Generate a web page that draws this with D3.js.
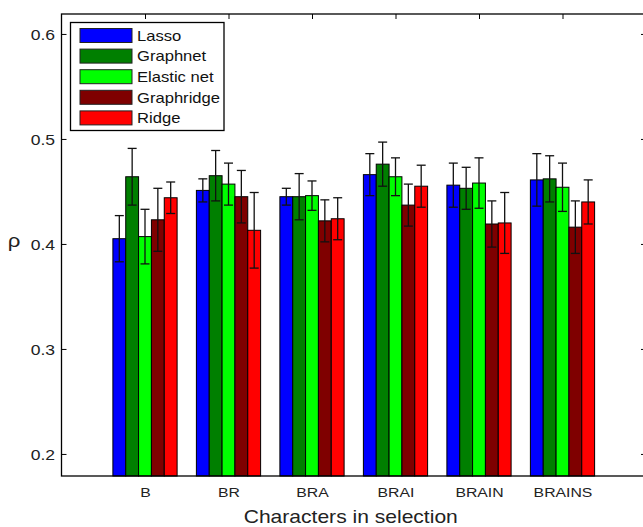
<!DOCTYPE html>
<html>
<head>
<meta charset="utf-8">
<script src="https://cdn.jsdelivr.net/npm/d3@7"></script>
<style>
  body { margin: 0; background: #fff; }
  svg { display: block; font-family: "Liberation Sans", Arial, Helvetica, sans-serif; }
</style>
</head>
<body>
<div id="chart"></div>
<script>
// categories and series
var categories = ["B", "BR", "BRA", "BRAI", "BRAIN", "BRAINS"];
var methods = ["Lasso", "Graphnet", "Elastic net", "Graphridge", "Ridge"];
var colors = ["#0000ff", "#007f00", "#00ff00", "#7f0000", "#ff0000"];

var lasso = [0.405, 0.451, 0.445, 0.466, 0.456, 0.461];
var lassoErr = [0.022, 0.011, 0.008, 0.020, 0.021, 0.025];
var graphnet = [0.464, 0.465, 0.445, 0.476, 0.453, 0.462];
var graphnetErr = [0.027, 0.024, 0.022, 0.021, 0.020, 0.022];
var elastic = [0.407, 0.457, 0.446, 0.464, 0.458, 0.454];
var elasticErr = [0.026, 0.020, 0.014, 0.018, 0.024, 0.023];
var graphridge = [0.423, 0.445, 0.422, 0.437, 0.419, 0.416];
var graphridgeErr = [0.030, 0.025, 0.020, 0.020, 0.022, 0.025];
var ridge = [0.444, 0.413, 0.424, 0.455, 0.420, 0.440];
var ridgeErr = [0.015, 0.036, 0.020, 0.020, 0.029, 0.021];

var yTicks = [0.2, 0.3, 0.4, 0.5, 0.6];

var values = [lasso, graphnet, elastic, graphridge, ridge];
var errors = [lassoErr, graphnetErr, elasticErr, graphridgeErr, ridgeErr];

// the figure looks stretched sideways, so texts get a small x scale
var sx = 1.17;

var W = 643, H = 527;
var pLeft = 61.5, pTop = 14, pRight = 646, pBottom = 476;

var svg = d3.select("#chart").append("svg")
    .attr("width", W)
    .attr("height", H);

// scales: x in "group units" like matlab (xlim 0..7), y is rho
var x = d3.scaleLinear().domain([0, categories.length + 1]).range([pLeft, pRight]);
var y = d3.scaleLinear().domain([0.179, 0.619]).range([pBottom, pTop]);
var groupW = (x(1) - x(0)) * 0.769;
var xSub = d3.scaleBand().domain(d3.range(methods.length)).range([-groupW / 2, groupW / 2]).padding(0);

// flatten rows for the bars
var rows = [];
categories.forEach(function (c, i) {
    methods.forEach(function (m, j) {
        rows.push({ cat: i, m: j, v: values[j][i], e: errors[j][i] });
    });
});

// left axis
var yAxisL = svg.append("g")
    .attr("transform", "translate(" + pLeft + ",0)")
    .call(d3.axisLeft(y).tickValues(yTicks).tickFormat(d3.format(".1f")).tickSizeInner(-5).tickSizeOuter(0));
yAxisL.select(".domain").remove();
yAxisL.selectAll("text")
    .attr("x", -6.5 / sx)
    .attr("dy", "0.36em")
    .attr("transform", "scale(" + sx + ",1)")
    .style("font-size", "15px")
    .style("fill", "#222");

// right axis ticks (inward)
var yAxisR = svg.append("g")
    .attr("transform", "translate(" + pRight + ",0)")
    .call(d3.axisRight(y).tickValues(yTicks).tickSizeInner(-5).tickSizeOuter(0).tickFormat(""));
yAxisR.select(".domain").remove();

// top axis ticks (inward)
var xAxisT = svg.append("g")
    .attr("transform", "translate(0," + pTop + ")")
    .call(d3.axisTop(x).tickValues(d3.range(1, categories.length + 1)).tickSizeInner(-5).tickSizeOuter(0).tickFormat(""));
xAxisT.select(".domain").remove();

// bottom axis with labels
var xAxisB = svg.append("g")
    .attr("transform", "translate(0," + pBottom + ")")
    .call(d3.axisBottom(x).tickValues(d3.range(1, categories.length + 1))
        .tickFormat(function (d) { return categories[d - 1]; })
        .tickSizeInner(-5).tickSizeOuter(0));
xAxisB.select(".domain").remove();
xAxisB.selectAll("text")
    .attr("y", 21)
    .attr("dy", 0)
    .attr("transform", "scale(" + sx + ",1)")
    .style("font-size", "13.5px")
    .style("fill", "#222");

svg.selectAll(".tick line").attr("stroke", "#000");

// bars
svg.append("g")
    .selectAll("rect")
    .data(rows)
    .enter().append("rect")
    .attr("x", function (d) { return x(d.cat + 1) + xSub(d.m); })
    .attr("y", function (d) { return y(d.v); })
    .attr("width", xSub.bandwidth())
    .attr("height", function (d) { return pBottom - y(d.v); })
    .attr("fill", function (d) { return colors[d.m]; })
    .attr("stroke", "#000")
    .attr("stroke-width", 1);

// error bars
function cx(d) { return x(d.cat + 1) + xSub(d.m) + xSub.bandwidth() / 2; }
var eb = svg.append("g")
    .selectAll("g")
    .data(rows)
    .enter().append("g")
    .attr("stroke", "#111")
    .attr("stroke-width", 1.3);
eb.append("line")
    .attr("x1", cx).attr("x2", cx)
    .attr("y1", function (d) { return y(d.v + d.e); })
    .attr("y2", function (d) { return y(d.v - d.e); });
eb.append("line")
    .attr("x1", function (d) { return cx(d) - 4.5; }).attr("x2", function (d) { return cx(d) + 4.5; })
    .attr("y1", function (d) { return y(d.v + d.e); })
    .attr("y2", function (d) { return y(d.v + d.e); });
eb.append("line")
    .attr("x1", function (d) { return cx(d) - 4.5; }).attr("x2", function (d) { return cx(d) + 4.5; })
    .attr("y1", function (d) { return y(d.v - d.e); })
    .attr("y2", function (d) { return y(d.v - d.e); });

// axes box
svg.append("rect")
    .attr("x", pLeft).attr("y", pTop)
    .attr("width", pRight - pLeft).attr("height", pBottom - pTop)
    .attr("fill", "none")
    .attr("stroke", "#000")
    .attr("stroke-width", 1.3);

// legend
var lg = svg.append("g");
lg.append("rect")
    .attr("x", 70.5).attr("y", 22.5)
    .attr("width", 153.5).attr("height", 108)
    .attr("fill", "#fff")
    .attr("stroke", "#000")
    .attr("stroke-width", 1.3);
var item = lg.selectAll(".item")
    .data(methods)
    .enter().append("g")
    .attr("class", "item")
    .attr("transform", function (d, i) { return "translate(80," + (35.5 + i * 20.6) + ")"; });
item.append("rect")
    .attr("x", 0).attr("y", -7)
    .attr("width", 52).attr("height", 14)
    .attr("fill", function (d, i) { return colors[i]; })
    .attr("stroke", "#222")
    .attr("stroke-width", 1);
item.append("text")
    .attr("x", 57 / sx)
    .attr("y", 5.2)
    .attr("transform", "scale(" + sx + ",1)")
    .style("font-size", "14.2px")
    .style("fill", "#111")
    .text(function (d) { return d; });

// axis titles
svg.append("text")
    .attr("transform", "translate(" + ((pLeft + pRight) / 2 - 3) + ",523) scale(" + sx + ",1)")
    .attr("text-anchor", "middle")
    .style("font-size", "18px")
    .style("fill", "#222")
    .text("Characters in selection");

svg.append("text")
    .attr("transform", "translate(14,247) scale(" + sx + ",1)")
    .attr("text-anchor", "middle")
    .style("font-size", "19px")
    .style("fill", "#222")
    .text("ρ");
</script>
</body>
</html>
